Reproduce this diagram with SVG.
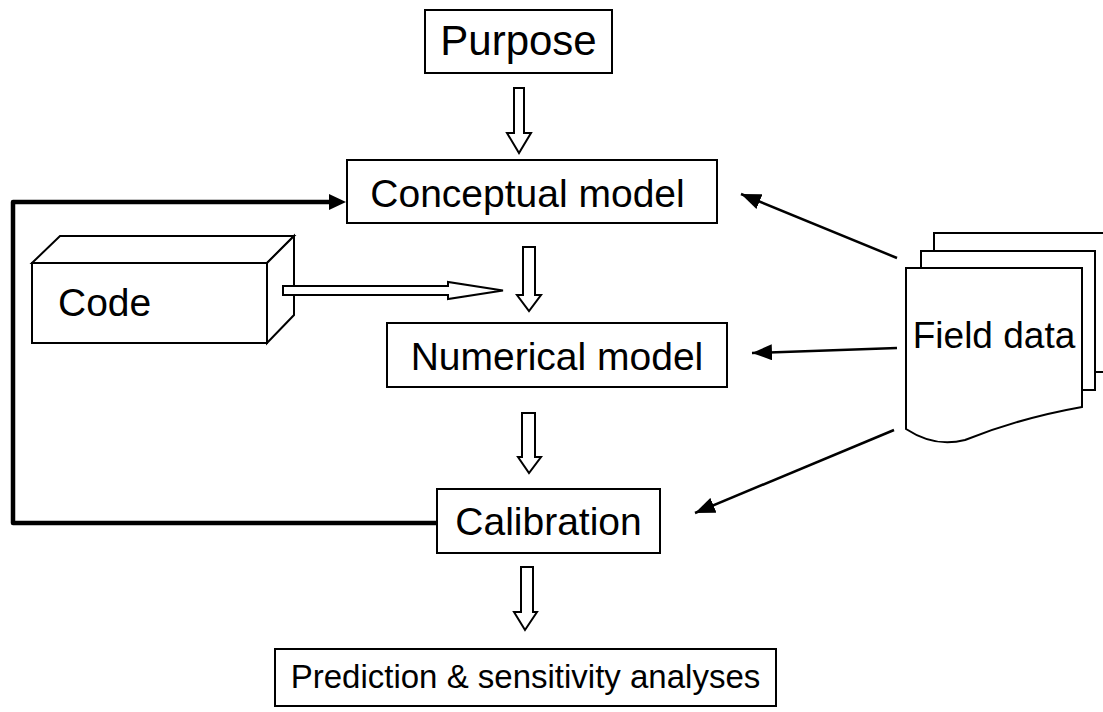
<svg xmlns="http://www.w3.org/2000/svg" width="1103" height="712" viewBox="0 0 1103 712">
<defs>
<style>
.box{fill:#fff;stroke:#000;stroke-width:2}
.txt{font-family:"Liberation Sans",Arial,sans-serif;fill:#000}
.hollow{fill:#fff;stroke:#000;stroke-width:2;stroke-linejoin:miter}
.thin{fill:none;stroke:#000;stroke-width:2.5}
.thick{fill:none;stroke:#000;stroke-width:4.5;stroke-linejoin:round}
.page{fill:#fff;stroke:#000;stroke-width:2}
</style>
<marker id="ah" viewBox="0 0 10 10" refX="10" refY="5" markerWidth="8" markerHeight="7" markerUnits="userSpaceOnUse" orient="auto" preserveAspectRatio="none">
<path d="M0,0 L10,5 L0,10 Z" fill="#000"/>
</marker>
<marker id="ahs" viewBox="0 0 10 10" refX="10" refY="5" markerWidth="20" markerHeight="16" markerUnits="userSpaceOnUse" orient="auto" preserveAspectRatio="none">
<path d="M0,0 L10,5 L0,10 Z" fill="#000"/>
</marker>
</defs>
<rect width="1103" height="712" fill="#fff"/>

<g id="connectors">
<path class="thick" d="M437,523 H13 V202 H332"/>
<path d="M329,194 L346,202 L329,210 Z" fill="#000"/>
<line class="thin" x1="897" y1="258" x2="741" y2="194" marker-end="url(#ahs)"/>
<line class="thin" x1="897" y1="348" x2="752" y2="353" marker-end="url(#ahs)"/>
<line class="thin" x1="894" y1="430" x2="695" y2="513" marker-end="url(#ahs)"/>
<path class="hollow" d="M514,88 H524 V133 H531 L519,153 L507,133 H514 Z"/>
<path class="hollow" d="M523,247 H535 V295 H541 L529,311 L517,295 H523 Z"/>
<path class="hollow" d="M522,413 H535 V457 H541 L529,473 L518,457 H522 Z"/>
<path class="hollow" d="M521,567 H533 V612 H537 L525,630 L514,612 H521 Z"/>
</g>

<g id="purpose">
<rect class="box" x="425" y="10" width="187" height="63"/>
<text class="txt" x="518.5" y="55" font-size="42" text-anchor="middle">Purpose</text>
</g>

<g id="conceptual">
<rect class="box" x="347" y="160" width="370" height="63"/>
<text class="txt" x="527.5" y="207" font-size="39" text-anchor="middle">Conceptual model</text>
</g>

<g id="code">
<polygon class="box" points="32,263 60,236 294,236 267,263"/>
<polygon class="box" points="267,263 294,236 294,315 267,343"/>
<rect class="box" x="32" y="263" width="235" height="80"/>
<text class="txt" x="58" y="316" font-size="39">Code</text>
<path class="hollow" d="M283,286 H448 V282 L503,290.5 L448,299 V295 H283 Z"/>
</g>

<g id="numerical">
<rect class="box" x="387" y="323" width="340" height="64"/>
<text class="txt" x="557" y="370" font-size="39" text-anchor="middle">Numerical model</text>
</g>

<g id="calibration">
<rect class="box" x="437" y="489" width="223" height="64"/>
<text class="txt" x="548.5" y="535" font-size="39" text-anchor="middle">Calibration</text>
</g>

<g id="prediction">
<rect class="box" x="275" y="649" width="501" height="57"/>
<text class="txt" x="525.5" y="688" font-size="33" text-anchor="middle">Prediction &amp; sensitivity analyses</text>
</g>

<g id="field-data">
<path class="page" d="M934,251 V233 H1106 V372 H1095"/>
<path class="page" d="M921,268 V251 H1095 V390 H1082"/>
<path class="page" d="M906,268 H1082 V407 Q1020,418 965,440 Q935,448 906,429 Z"/>
<text class="txt" x="994" y="348" font-size="37" text-anchor="middle">Field data</text>
</g>
</svg>
